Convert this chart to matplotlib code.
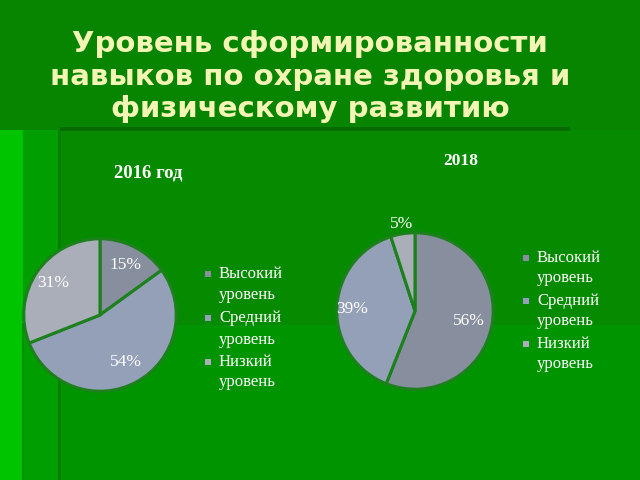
import numpy as np
import matplotlib
matplotlib.use("Agg")
import matplotlib.pyplot as plt
from matplotlib.patches import Rectangle

# Данные
categories = ["Высокий\nуровень", "Средний\nуровень", "Низкий\nуровень"]
values_2016 = [15, 54, 31]
values_2018 = [56, 39, 5]
colors = ["#878e9d", "#94a0b7", "#a9aeb8"]

W, H = 640, 480
fig = plt.figure(figsize=(6.4, 4.8), dpi=100)
fig.patch.set_facecolor("#088c00")

def px(x0, y0, x1, y1):
    # пиксели (сверху) -> координаты фигуры
    return [x0 / W, 1 - y1 / H, (x1 - x0) / W, (y1 - y0) / H]

# фон слайда (отдельная ось под всем остальным)
bg = fig.add_axes([0, 0, 1, 1], zorder=-10)
bg.set_xlim(0, W)
bg.set_ylim(H, 0)
bg.axis("off")

def rect(x0, y0, x1, y1, c):
    bg.add_patch(Rectangle((x0, y0), x1 - x0, y1 - y0, facecolor=c, edgecolor="none"))

rect(0, 0, 640, 130, "#088500")
rect(0, 130, 60, 480, "#009e00")
rect(0, 130, 23, 480, "#00c400")
rect(22, 323, 24, 480, "#009200")
rect(60, 130, 640, 325, "#058a00")
rect(60, 325, 640, 480, "#009400")
rect(60, 127, 570, 131, "#056a00")
rect(58, 130, 61, 480, "#077e00")

fig.text(0.485, 0.84, "Уровень сформированности\nнавыков по охране здоровья и\nфизическому развитию",
         ha="center", va="center", fontsize=21, fontweight="bold", color="#f3f5b4",
         family="DejaVu Sans", linespacing=1.2)

def draw_pie(box, vals, dists, title, title_xy, title_fs, leg_x, leg_rows):
    ax = fig.add_axes(px(*box))
    wedges, _ = ax.pie(vals, colors=colors, startangle=90, counterclock=False, radius=1,
                       wedgeprops=dict(edgecolor="#1c801c", linewidth=2.2))
    ax.set_xlim(-1.01, 1.01)
    ax.set_ylim(-1.01, 1.01)
    ax.axis("off")
    for w, v, d in zip(wedges, vals, dists):
        th = np.radians((w.theta1 + w.theta2) / 2)
        ax.text(d * np.cos(th), d * np.sin(th), f"{v}%", ha="center", va="center",
                fontsize=12.5, color="white", family="Liberation Serif")
    fig.text(title_xy[0] / W, 1 - title_xy[1] / H, title, ha="center", va="center",
             fontsize=title_fs, fontweight="bold", color="white", family="Liberation Serif")
    # легенда: маркер напротив первой строки подписи
    for cat, c, (y1, y2) in zip(categories, colors, leg_rows):
        fig.patches.append(Rectangle(((leg_x - 3) / W, 1 - (y1 + 3) / H), 6 / W, 6 / H,
                                     transform=fig.transFigure, facecolor=c, edgecolor="none"))
        for line, y in zip(cat.split("\n"), (y1, y2)):
            fig.text((leg_x + 11) / W, 1 - y / H, line, ha="left", va="center",
                     fontsize=12, color="white", family="Liberation Serif")
    return ax

draw_pie((23, 238, 177, 392), values_2016, [0.73, 0.71, 0.74], "2016 год", (148, 173), 13.5,
         208, [(274, 295), (318, 340), (362, 382)])
draw_pie((336, 232, 494, 390), values_2018, [0.7, 0.8, 1.13], "2018", (461, 161), 12.5,
         526, [(258, 278), (301, 321), (344, 364)])

fig.savefig("out.png", dpi=100, facecolor=fig.get_facecolor())
